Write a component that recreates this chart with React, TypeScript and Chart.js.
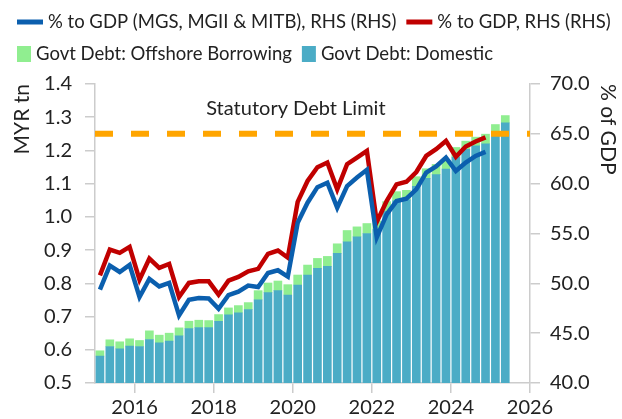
import React, { useEffect, useRef } from "react";
import { Chart, registerables } from "chart.js";

Chart.register(...registerables);

// ---------------- data ----------------
const quarters = [
  "2015 Q1", "2015 Q2", "2015 Q3", "2015 Q4",
  "2016 Q1", "2016 Q2", "2016 Q3", "2016 Q4",
  "2017 Q1", "2017 Q2", "2017 Q3", "2017 Q4",
  "2018 Q1", "2018 Q2", "2018 Q3", "2018 Q4",
  "2019 Q1", "2019 Q2", "2019 Q3", "2019 Q4",
  "2020 Q1", "2020 Q2", "2020 Q3", "2020 Q4",
  "2021 Q1", "2021 Q2", "2021 Q3", "2021 Q4",
  "2022 Q1", "2022 Q2", "2022 Q3", "2022 Q4",
  "2023 Q1", "2023 Q2", "2023 Q3", "2023 Q4",
  "2024 Q1", "2024 Q2", "2024 Q3", "2024 Q4",
  "2025 Q1", "2025 Q2",
];

// Govt Debt: Domestic (MYR tn)
const domestic = [
  0.581, 0.610, 0.603, 0.611, 0.610, 0.631, 0.621, 0.626,
  0.642, 0.664, 0.667, 0.667, 0.686, 0.705, 0.711, 0.721,
  0.750, 0.772, 0.778, 0.765, 0.795, 0.825, 0.845, 0.851,
  0.890, 0.925, 0.940, 0.950, 0.962, 1.017, 1.048, 1.051,
  1.092, 1.116, 1.127, 1.144, 1.180, 1.203, 1.214, 1.220,
  1.245, 1.283,
];

// Govt Debt: Offshore Borrowing (MYR tn)
const offshore = [
  0.016, 0.020, 0.021, 0.022, 0.018, 0.026, 0.023, 0.024,
  0.024, 0.022, 0.022, 0.021, 0.020, 0.021, 0.022, 0.021,
  0.028, 0.029, 0.029, 0.031, 0.030, 0.030, 0.030, 0.030,
  0.029, 0.034, 0.030, 0.030, 0.026, 0.029, 0.028, 0.029,
  0.029, 0.029, 0.031, 0.027, 0.029, 0.025, 0.026, 0.029,
  0.033, 0.022,
];

// % to GDP (MGS, MGII & MITB), RHS
const pctGdpMgs = [
  49.36, 51.78, 51.14, 51.85, 48.63, 50.44, 49.69, 50.04,
  46.78, 48.36, 48.53, 48.49, 47.45, 48.81, 49.16, 49.77,
  49.63, 51.04, 51.31, 50.67, 56.08, 58.09, 59.65, 60.10,
  57.59, 59.76, 60.61, 61.39, 54.62, 56.91, 58.25, 58.49,
  59.43, 61.11, 61.72, 62.62, 61.27, 62.12, 62.78, 63.19,
];

// % to GDP, RHS
const pctGdp = [
  50.80, 53.39, 53.06, 53.66, 50.37, 52.48, 51.55, 51.95,
  48.63, 50.04, 50.20, 50.20, 48.86, 50.27, 50.64, 51.21,
  51.45, 52.96, 53.29, 52.58, 58.17, 60.27, 61.65, 62.12,
  59.43, 61.95, 62.62, 63.29, 56.16, 58.25, 59.93, 60.19,
  61.17, 62.78, 63.46, 64.29, 62.70, 63.73, 64.23, 64.64,
];

const statutoryLimit = 65; // % of GDP
const statutoryLabel = "Statutory Debt Limit";
const statutoryLabelX = 2020.08;

const xTicks = [2016, 2018, 2020, 2022, 2024, 2026];
const xRange = [2015, 2026];
const leftRange = [0.5, 1.4, 0.1];
const rightRange = [40, 70, 5];

const legendRows = [
  [
    { kind: "line", color: "#0b5fae", text: "% to GDP (MGS, MGII & MITB), RHS (RHS)" },
    { kind: "line", color: "#c00000", text: "% to GDP, RHS (RHS)" },
  ],
  [
    { kind: "box", color: "#90ee90", text: "Govt Debt: Offshore Borrowing" },
    { kind: "box", color: "#4bacc6", text: "Govt Debt: Domestic" },
  ],
];

// ---------------- helpers ----------------
const FONT = "Lato";
const TEXT = "#222222";
const AXIS = "#cccccc";

function quarterX(q: string): number {
  const [y, qq] = q.split(" Q");
  return Number(y) + (Number(qq) - 1) * 0.25 + 0.125;
}

const legendPlugin = {
  id: "customLegend",
  afterDraw(chart: any) {
    const ctx = chart.ctx;
    ctx.save();
    ctx.font = `18.5px ${FONT}`;
    ctx.textBaseline = "middle";
    const rowY = [22, 54];
    legendRows.forEach((row, r) => {
      let x = 17;
      const yc = rowY[r];
      row.forEach((item) => {
        if (item.kind === "line") {
          ctx.strokeStyle = item.color;
          ctx.lineWidth = 5;
          ctx.beginPath();
          ctx.moveTo(x, yc);
          ctx.lineTo(x + 26, yc);
          ctx.stroke();
          x += 31;
        } else {
          ctx.fillStyle = item.color;
          ctx.fillRect(x, yc - 8, 14, 16);
          x += 19;
        }
        ctx.fillStyle = TEXT;
        ctx.textAlign = "left";
        ctx.fillText(item.text, x, yc);
        x += ctx.measureText(item.text).width + 10;
      });
    });
    ctx.restore();
  },
};

const annotationPlugin = {
  id: "statutoryLabel",
  afterDatasetsDraw(chart: any) {
    const ctx = chart.ctx;
    const xs = chart.scales.x;
    const y1 = chart.scales.y1;
    ctx.save();
    ctx.font = `20px ${FONT}`;
    ctx.fillStyle = TEXT;
    ctx.textAlign = "center";
    ctx.textBaseline = "alphabetic";
    ctx.fillText(statutoryLabel, xs.getPixelForValue(statutoryLabelX), y1.getPixelForValue(statutoryLimit) - 19);
    ctx.restore();
  },
};

export default function App() {
  const canvasRef = useRef<HTMLCanvasElement | null>(null);

  useEffect(() => {
    const canvas = canvasRef.current;
    if (!canvas) return;
    const xs = quarters.map(quarterX);
    const tickFont = { family: FONT, size: 20 };

    const chart = new Chart(canvas, {
      type: "bar",
      data: {
        datasets: [
          {
            type: "line",
            label: legendRows[0][0].text,
            data: pctGdpMgs.map((v, i) => ({ x: xs[i], y: v })),
            borderColor: legendRows[0][0].color,
            borderWidth: 4.5,
            pointRadius: 0,
            tension: 0,
            yAxisID: "y1",
            order: 0,
          } as any,
          {
            type: "line",
            label: legendRows[0][1].text,
            data: pctGdp.map((v, i) => ({ x: xs[i], y: v })),
            borderColor: legendRows[0][1].color,
            borderWidth: 4.5,
            pointRadius: 0,
            tension: 0,
            yAxisID: "y1",
            order: 1,
          } as any,
          {
            type: "line",
            label: statutoryLabel,
            data: [
              { x: xRange[0], y: statutoryLimit },
              { x: xRange[1], y: statutoryLimit },
            ],
            borderColor: "#ffa500",
            borderWidth: 6,
            borderDash: [18, 18],
            borderCapStyle: "butt",
            pointRadius: 0,
            yAxisID: "y1",
            order: 2,
          } as any,
          {
            type: "bar",
            label: legendRows[1][1].text,
            data: domestic.map((v, i) => ({ x: xs[i], y: v })),
            backgroundColor: legendRows[1][1].color,
            barThickness: 8,
            yAxisID: "y",
            order: 3,
          } as any,
          {
            type: "bar",
            label: legendRows[1][0].text,
            data: offshore.map((v, i) => ({ x: xs[i], y: v })),
            backgroundColor: legendRows[1][0].color,
            barThickness: 8,
            yAxisID: "y",
            order: 4,
          } as any,
        ],
      },
      options: {
        animation: false,
        responsive: false,
        maintainAspectRatio: false,
        layout: { padding: { top: 84, left: 0, right: 0, bottom: 0 } },
        plugins: {
          legend: { display: false },
          tooltip: { enabled: false },
        },
        scales: {
          x: {
            type: "linear",
            min: xRange[0],
            max: xRange[1],
            offset: false,
            stacked: true,
            afterBuildTicks: (s: any) => {
              s.ticks = xTicks.map((v) => ({ value: v }));
            },
            afterFit: (s: any) => {
              s.height = 36;
            },
            ticks: {
              autoSkip: false,
              maxRotation: 0,
              padding: 3,
              color: TEXT,
              font: tickFont,
              callback: (v: any) => String(v),
            },
            grid: { drawOnChartArea: false, drawTicks: true, tickLength: 10, color: AXIS, offset: false, lineWidth: 1.5 },
            border: { color: AXIS, width: 1.5 },
          } as any,
          y: {
            type: "linear",
            position: "left",
            min: leftRange[0],
            max: leftRange[1],
            stacked: true,
            afterFit: (s: any) => {
              s.width = 95;
            },
            ticks: {
              stepSize: leftRange[2],
              padding: 13,
              color: TEXT,
              font: tickFont,
              callback: (v: any) => Number(v).toFixed(1),
            },
            grid: { drawOnChartArea: false, drawTicks: true, tickLength: 10, color: AXIS, lineWidth: 1.5 },
            border: { color: AXIS, width: 1.5 },
            title: {
              display: true,
              text: "MYR tn",
              align: "end",
              color: TEXT,
              font: { family: FONT, size: 21 },
              padding: { top: 10, bottom: 0 },
            },
          } as any,
          y1: {
            type: "linear",
            position: "right",
            min: rightRange[0],
            max: rightRange[1],
            afterFit: (s: any) => {
              s.width = 92;
            },
            ticks: {
              stepSize: rightRange[2],
              padding: 10,
              color: TEXT,
              font: tickFont,
              callback: (v: any) => Number(v).toFixed(1),
            },
            grid: { drawOnChartArea: false, drawTicks: true, tickLength: 10, color: AXIS, lineWidth: 1.5 },
            border: { color: AXIS, width: 1.5 },
            title: {
              display: true,
              text: "% of GDP",
              align: "end",
              color: TEXT,
              font: { family: FONT, size: 21 },
              padding: { top: 2, bottom: 0 },
            },
          } as any,
        },
      } as any,
      plugins: [legendPlugin, annotationPlugin],
    });

    return () => chart.destroy();
  }, []);

  return (
    <div style={{ position: "fixed", left: 0, top: 0, width: 622, height: 419, background: "#fff" }}>
      <canvas ref={canvasRef} width={622} height={419} style={{ display: "block" }} />
    </div>
  );
}
